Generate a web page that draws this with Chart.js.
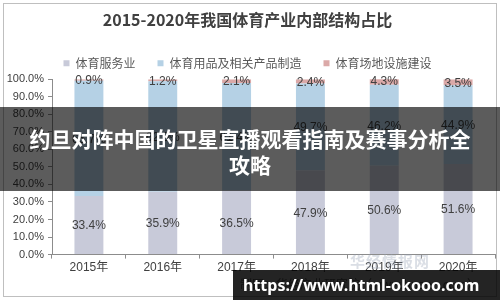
<!DOCTYPE html>
<html>
<head>
<meta charset="utf-8">
<script src="https://cdn.jsdelivr.net/npm/chart.js@4"></script>
<style>
  html, body { margin: 0; padding: 0; background: #fff; }
  #wrap { position: relative; width: 500px; height: 300px; overflow: hidden; }
  #frame { position: absolute; left: 3px; top: 3px; width: 492px; height: 292px; border: 1px solid #bfbfbf; }
  canvas { position: absolute; left: 0; top: 0; }
  .banner {
    position: absolute; left: 0; top: 107px; width: 500px; height: 84px;
    background: rgba(0, 0, 0, 0.64);
    color: #fff; font: bold 21px "Noto Sans CJK SC", sans-serif;
    text-align: center; line-height: 26px; padding-top: 18px; box-sizing: border-box;
  }
  .source { position: absolute; left: 240px; top: 275px; font: 12px "Noto Sans CJK SC", sans-serif; color: #777; }
  .logo { position: absolute; left: 350px; top: 250px; font: bold 15px "Noto Sans CJK SC", sans-serif; color: rgba(150,160,180,0.35); letter-spacing: 1px; }
  .url {
    position: absolute; left: 233px; top: 270px; width: 267px; height: 30px;
    background: rgba(0, 0, 0, 0.86); color: #fff;
    font: bold 16px "Noto Sans", sans-serif; line-height: 30px; padding-left: 10px; box-sizing: border-box;
    white-space: nowrap;
  }
</style>
</head>
<body>
<div id="wrap">
  <canvas id="chart" width="500" height="300"></canvas>
  <div id="frame"></div>
  <div class="logo">华经情报网</div>
  <div class="source">制图：华经产业研究院（www.huaon.com）</div>
  <div class="banner">约旦对阵中国的卫星直播观看指南及赛事分析全<br>攻略</div>
  <div class="url">https://www.html-okooo.com</div>
</div>
<script>
const years = ['2015年', '2016年', '2017年', '2018年', '2019年', '2020年'];
const fuwu = [33.4, 35.9, 36.5, 47.9, 50.6, 51.6];
const yongpin = [65.7, 62.9, 61.4, 49.7, 46.2, 44.9];
const changdi = [0.9, 1.2, 2.1, 2.4, 4.3, 3.5];
const yTicks = [0, 10, 20, 30, 40, 50, 60, 70, 80, 90, 100];

const labelPlugin = {
  id: 'segLabels',
  afterDatasetsDraw(chart) {
    const c = chart.ctx;
    c.save();
    c.font = '12px "Liberation Sans", Arial, sans-serif';
    c.fillStyle = '#404040';
    c.textAlign = 'center';
    c.textBaseline = 'middle';
    chart.data.datasets.forEach((ds, i) => {
      const meta = chart.getDatasetMeta(i);
      meta.data.forEach((bar, j) => {
        let y = (bar.y + bar.base) / 2;
        if (y < chart.chartArea.top) y = chart.chartArea.top;
        c.fillText(ds.data[j].toFixed(1) + '%', bar.x, y + 1);
      });
    });
    c.restore();
  }
};

new Chart(document.getElementById('chart'), {
  type: 'bar',
  data: {
    labels: years,
    datasets: [
      { label: '体育服务业', data: fuwu, backgroundColor: '#c8cad9' },
      { label: '体育用品及相关产品制造', data: yongpin, backgroundColor: '#b5d1e5' },
      { label: '体育场地设施建设', data: changdi, backgroundColor: '#dba9a8' }
    ]
  },
  options: {
    responsive: false,
    animation: false,
    layout: { padding: { left: 0, right: 5, top: 6, bottom: 23 } },
    datasets: { bar: { barPercentage: 0.8, categoryPercentage: 0.49 } },
    plugins: {
      title: {
        display: true,
        text: '2015-2020年我国体育产业内部结构占比',
        color: '#404040',
        font: { family: '"Noto Sans CJK SC", sans-serif', size: 16, weight: 'bold' },
        padding: { top: 4, bottom: 6 }
      },
      legend: {
        labels: {
          boxWidth: 6, boxHeight: 6, padding: 22,
          color: '#595959',
          font: { family: '"Noto Sans CJK SC", sans-serif', size: 12 }
        }
      },
      tooltip: { enabled: false }
    },
    scales: {
      x: {
        stacked: true,
        grid: { offset: true, drawOnChartArea: false, tickLength: 4, color: '#8c8c8c' },
        border: { color: '#8c8c8c' },
        ticks: { color: '#404040', font: { family: '"Liberation Sans", "Noto Sans CJK SC", sans-serif', size: 12 }, padding: 2 }
      },
      y: {
        stacked: true,
        min: 0, max: 100,
        afterBuildTicks: axis => { axis.ticks = yTicks.map(v => ({ value: v })); },
        afterFit: axis => { axis.width = 52; },
        grid: { drawOnChartArea: false, tickLength: 4, color: '#8c8c8c' },
        border: { color: '#8c8c8c' },
        ticks: {
          color: '#404040', padding: 4,
          font: { family: '"Liberation Sans", Arial, sans-serif', size: 11 },
          callback: v => v.toFixed(1) + '%'
        }
      }
    }
  },
  plugins: [labelPlugin]
});
</script>
</body>
</html>
